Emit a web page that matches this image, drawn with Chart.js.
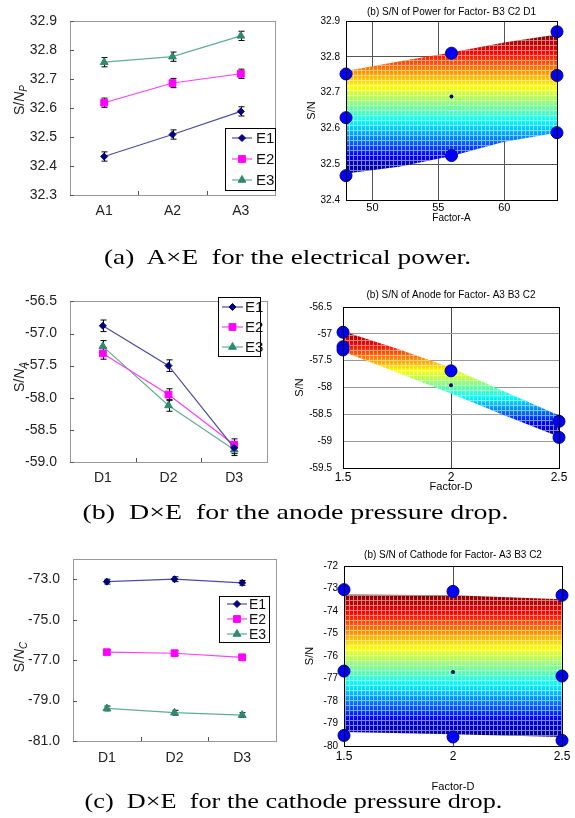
<!DOCTYPE html>
<html><head><meta charset="utf-8">
<script src="https://cdn.jsdelivr.net/npm/chart.js@4.4.0/dist/chart.umd.min.js"></script>
<style>
body{margin:0;background:#fff;width:575px;height:818px;overflow:hidden;position:relative;font-family:"Liberation Sans",Arial,sans-serif}
.pane{position:absolute}
.cap{position:absolute;width:575px;text-align:center;font-family:"Liberation Serif","Times New Roman",serif;font-size:21px;white-space:pre;color:#000;line-height:24px}
.ylab{position:absolute;transform:translate(-50%,-50%) rotate(-90deg);font-family:"Liberation Sans",Arial,sans-serif;font-size:14px;color:#222;white-space:nowrap}
.ylab sub{font-size:10px;font-style:italic}
</style></head>
<body>
<div class="pane" style="left:0;top:0;width:285px;height:225px"><canvas id="pL"></canvas></div>
<div class="pane" style="left:285px;top:0;width:290px;height:230px"><canvas id="pR"></canvas></div>
<div class="pane" style="left:0;top:280px;width:285px;height:230px"><canvas id="aL"></canvas></div>
<div class="pane" style="left:285px;top:280px;width:290px;height:230px"><canvas id="aR"></canvas></div>
<div class="pane" style="left:0;top:535px;width:285px;height:240px"><canvas id="cL"></canvas></div>
<div class="pane" style="left:285px;top:535px;width:290px;height:262px"><canvas id="cR"></canvas></div>
<div class="ylab" style="left:20px;top:100px">S/<i>N</i><sub>P</sub></div>
<div class="ylab" style="left:20px;top:377px">S/<i>N</i><sub>A</sub></div>
<div class="ylab" style="left:20px;top:657px">S/<i>N</i><sub>C</sub></div>
<div class="cap" style="left:0;top:245px;transform:scaleX(1.30)">(a)  A×E  for the electrical power.</div>
<div class="cap" style="left:8px;top:500px;transform:scaleX(1.33)">(b)  D×E  for the anode pressure drop.</div>
<div class="cap" style="left:6px;top:789px;transform:scaleX(1.25)">(c)  D×E  for the cathode pressure drop.</div>
<script>
// ---------------- data ----------------
const seriesNames = ['E1', 'E2', 'E3'];
const catsA = ['A1', 'A2', 'A3'];
const catsD = ['D1', 'D2', 'D3'];

// (a) electrical power, interaction plot
const powerE1 = [32.433, 32.509, 32.589];
const powerE2 = [32.619, 32.687, 32.719];
const powerE3 = [32.759, 32.778, 32.850];
const powerErr = [0.016, 0.016, 0.016];
const powerTicks = [32.3, 32.4, 32.5, 32.6, 32.7, 32.8, 32.9];

// (b) anode pressure drop, interaction plot
const anodeE1 = [-56.88, -57.50, -58.78];
const anodeE2 = [-57.31, -57.95, -58.73];
const anodeE3 = [-57.20, -58.12, -58.81];
const anodeErr = [0.09, 0.09, 0.09];
const anodeTicks = [-59.0, -58.5, -58.0, -57.5, -57.0, -56.5];

// (c) cathode pressure drop, interaction plot
const cathE1 = [-73.12, -73.00, -73.18];
const cathE2 = [-76.61, -76.66, -76.86];
const cathE3 = [-79.39, -79.60, -79.72];
const cathErr = [0.12, 0.12, 0.12];
const cathTicks = [-81, -79, -77, -75, -73];

// (a) right: response surface, Power
const powSurfX = [48, 52, 56, 60, 64];
const powSurfTop = [32.760, 32.787, 32.812, 32.840, 32.862];
const powSurfBot = [32.474, 32.493, 32.523, 32.563, 32.588];
const powDotX = [48, 48, 48, 56, 56, 64, 64, 64];
const powDotY = [32.752, 32.630, 32.468, 32.810, 32.524, 32.870, 32.748, 32.588];
const powMidX = [56], powMidY = [32.689];
const powXTicks = [50, 55, 60];
const powYTicks = [32.4, 32.5, 32.6, 32.7, 32.8, 32.9];

// (b) right: response surface, Anode
const anoSurfX = [1.5, 1.75, 2, 2.25, 2.5];
const anoSurfTop = [-56.95, -57.28, -57.63, -58.08, -58.52];
const anoSurfBot = [-57.33, -57.72, -58.11, -58.52, -58.92];
const anoDotX = [1.5, 1.5, 1.5, 2, 2.5, 2.5];
const anoDotY = [-56.97, -57.24, -57.30, -57.69, -58.63, -58.93];
const anoMidX = [2], anoMidY = [-57.96];
const anoXTicks = [1.5, 2, 2.5];
const anoYTicks = [-59.5, -59, -58.5, -58, -57.5, -57, -56.5];

// (c) right: response surface, Cathode
const catSurfX = [1.5, 2, 2.5];
const catSurfTop = [-73.27, -73.30, -73.48];
const catSurfBot = [-79.38, -79.48, -79.60];
const catDotX = [1.5, 1.5, 1.5, 2, 2, 2.5, 2.5, 2.5];
const catDotY = [-73.05, -76.67, -79.53, -73.13, -79.60, -73.30, -76.89, -79.75];
const catMidX = [2], catMidY = [-76.71];
const catXTicks = [1.5, 2, 2.5];
const catYTicks = [-80, -79, -78, -77, -76, -75, -74, -73, -72];

// ---------------- plugins ----------------
const frame = {
  id: 'frame',
  afterDatasetsDraw(chart, args, opts) {
    if (!opts || !opts.color) return;
    const a = chart.chartArea, ctx = chart.ctx;
    ctx.save(); ctx.strokeStyle = opts.color; ctx.lineWidth = 1;
    ctx.strokeRect(Math.round(a.left) + 0.5, Math.round(a.top) + 0.5, Math.round(a.right - a.left), Math.round(a.bottom - a.top));
    ctx.restore();
  }
};
const areaTitle = {
  id: 'areaTitle',
  afterDraw(chart, args, o) {
    if (!o || !o.text) return;
    const a = chart.chartArea, ctx = chart.ctx;
    ctx.save();
    ctx.font = o.size + 'px "Liberation Sans", Arial, sans-serif';
    ctx.fillStyle = '#000'; ctx.textAlign = 'center'; ctx.textBaseline = 'middle';
    ctx.fillText(o.text, (a.left + a.right) / 2, o.y);
    ctx.restore();
  }
};
const errorBars = {
  id: 'errorBars',
  beforeDatasetsDraw(chart) {
    const ctx = chart.ctx, ys = chart.scales.y;
    chart.data.datasets.forEach((ds, i) => {
      if (!ds.errors) return;
      const meta = chart.getDatasetMeta(i);
      meta.data.forEach((pt, j) => {
        const v = ds.data[j], e = ds.errors[j];
        const x = Math.round(pt.x) + 0.5, y1 = ys.getPixelForValue(v + e), y2 = ys.getPixelForValue(v - e);
        ctx.save(); ctx.strokeStyle = '#000'; ctx.lineWidth = 1; ctx.beginPath();
        ctx.moveTo(x, y1); ctx.lineTo(x, y2);
        ctx.moveTo(x - 3, y1); ctx.lineTo(x + 3, y1);
        ctx.moveTo(x - 3, y2); ctx.lineTo(x + 3, y2);
        ctx.stroke(); ctx.restore();
      });
    });
  }
};
const innerTicks = {
  id: 'innerTicks',
  afterDatasetsDraw(chart, args, opts) {
    if (!opts || !opts.on) return;
    const ctx = chart.ctx, a = chart.chartArea, xs = chart.scales.x, ys = chart.scales.y;
    ctx.save(); ctx.strokeStyle = '#555'; ctx.lineWidth = 1; ctx.beginPath();
    ys.ticks.forEach(t => { const p = Math.round(ys.getPixelForValue(t.value)) + 0.5; ctx.moveTo(a.left, p); ctx.lineTo(a.left + 4, p); });
    const n = chart.data.labels.length;
    const step = xs.getPixelForValue(1) - xs.getPixelForValue(0);
    for (let i = 0; i < n - 1; i++) { const p = Math.round(xs.getPixelForValue(i) + step / 2) + 0.5; ctx.moveTo(p, a.bottom); ctx.lineTo(p, a.bottom - 4); }
    ctx.stroke(); ctx.restore();
  }
};
const boxLegend = {
  id: 'boxLegend',
  afterDraw(chart, args, o) {
    if (!o || !o.box) return;
    const ctx = chart.ctx, [x1, y1, x2, y2] = o.box;
    ctx.save();
    ctx.fillStyle = '#fff'; ctx.fillRect(x1, y1, x2 - x1, y2 - y1);
    ctx.strokeStyle = '#000'; ctx.lineWidth = 1; ctx.strokeRect(x1 + 0.5, y1 + 0.5, x2 - x1, y2 - y1);
    chart.data.datasets.forEach((ds, i) => {
      const y = o.rows[i];
      ctx.strokeStyle = ds.borderColor; ctx.lineWidth = 1.2;
      ctx.beginPath(); ctx.moveTo(o.line[0], y); ctx.lineTo(o.line[1], y); ctx.stroke();
      ctx.fillStyle = ds.pointBackgroundColor; ctx.strokeStyle = ds.pointBorderColor; ctx.lineWidth = 1;
      Chart.helpers.drawPoint(ctx, {pointStyle: ds.pointStyle, radius: ds.pointRadius, rotation: 0, borderWidth: 1},
        (o.line[0] + o.line[1]) / 2, y);
      ctx.fillStyle = '#111'; ctx.font = o.font + 'px "Liberation Sans", Arial, sans-serif';
      ctx.textBaseline = 'middle'; ctx.textAlign = 'left';
      ctx.fillText(ds.label, o.text, y + 1);
    });
    ctx.restore();
  }
};
Chart.register(frame, areaTitle, errorBars, innerTicks, boxLegend);

// ---------------- interaction plots ----------------
const styles = [
  {line: '#4b4ba6', fill: '#000080', style: 'rectRot', r: 3.5},
  {line: '#ff3cff', fill: '#ff00ff', style: 'rect', r: 4.8},
  {line: '#5fb08f', fill: '#2e8b6e', style: 'triangle', r: 4.5}
];
function interaction(id, cats, series, errs, yTicks, lay, leg) {
  const tickFont = {family: '"Liberation Sans", Arial, sans-serif', size: 14};
  new Chart(document.getElementById(id), {
    type: 'line',
    data: {
      labels: cats,
      datasets: series.map((s, i) => ({
        label: seriesNames[i], data: s, errors: errs,
        borderColor: styles[i].line, borderWidth: 1.2,
        pointStyle: styles[i].style, pointRadius: styles[i].r,
        pointBackgroundColor: styles[i].fill, pointBorderColor: styles[i].fill, pointBorderWidth: 1,
        tension: 0, fill: false
      }))
    },
    options: {
      responsive: true, maintainAspectRatio: false, animation: false,
      layout: {padding: {left: 0, top: lay.top, right: lay.right, bottom: 0}},
      plugins: {legend: {display: false}, tooltip: {enabled: false},
        frame: {color: '#999'}, innerTicks: {on: true}, boxLegend: leg},
      scales: {
        x: {type: 'category', offset: true,
          grid: {display: false, drawTicks: false},
          border: {display: true, color: '#555', width: 1},
          ticks: {font: tickFont, color: '#222', padding: lay.xPad, maxRotation: 0},
          afterFit: s => { s.height = lay.xH; }},
        y: {min: yTicks[0], max: lay.ymax !== undefined ? lay.ymax : yTicks[yTicks.length - 1],
          afterBuildTicks: a => { a.ticks = yTicks.map(v => ({value: v})); },
          grid: {display: false, drawTicks: false},
          border: {display: true, color: '#555', width: 1},
          ticks: {font: tickFont, color: '#222', padding: 13, callback: v => Number(v).toFixed(1)},
          afterFit: s => { s.width = lay.yW; }}
      }
    }
  });
}
interaction('pL', catsA, [powerE1, powerE2, powerE3], powerErr, powerTicks,
  {top: 13, right: 10, xH: 30, yW: 70, xPad: 8},
  {box: [225, 128, 275, 190], rows: [138, 159, 180], line: [232, 252], text: 256, font: 15});
interaction('aL', catsD, [anodeE1, anodeE2, anodeE3], anodeErr, anodeTicks,
  {top: 12, right: 18, xH: 48, yW: 70, xPad: 8},
  {box: [218, 17, 260, 76], rows: [27, 47, 67], line: [222, 243], text: 245, font: 15});
interaction('cL', catsD, [cathE1, cathE2, cathE3], cathErr, cathTicks,
  {top: 24, right: 9, xH: 34, yW: 73, xPad: 9, ymax: -72},
  {box: [219, 61, 269, 107], rows: [69, 84, 99], line: [227, 247], text: 249, font: 14});

// ---------------- response surfaces ----------------
function jetColor(t) {
  const c = v => Math.round(255 * Math.max(0, Math.min(1, v)));
  return 'rgb(' + c(1.5 - Math.abs(4 * t - 3)) + ',' + c(1.5 - Math.abs(4 * t - 2)) + ',' + c(1.5 - Math.abs(4 * t - 1)) + ')';
}
function surfGradient(chart, vmin, vmax) {
  const ys = chart.scales.y;
  if (!ys || !chart.chartArea) return 'rgba(0,0,0,0)';
  const p0 = ys.getPixelForValue(vmin), p1 = ys.getPixelForValue(vmax);
  if (!isFinite(p0) || !isFinite(p1) || p0 === p1) return 'rgba(0,0,0,0)';
  const g = chart.ctx.createLinearGradient(0, p0, 0, p1);
  for (let i = 0; i <= 24; i++) g.addColorStop(i / 24, jetColor(i / 24));
  return g;
}
function meshPattern(alpha) {
  const c = document.createElement('canvas'); c.width = 4; c.height = 5;
  const g = c.getContext('2d');
  g.fillStyle = 'rgba(255,255,255,' + alpha + ')';
  g.fillRect(0, 0, 1, 5); g.fillRect(1, 0, 3, 1);
  return g.createPattern(c, 'repeat');
}
const pts = (xs, ys) => xs.map((x, i) => ({x: x, y: ys[i]}));
function surface(id, s) {
  const vmin = Math.min(...s.bot), vmax = Math.max(...s.top);
  const font = sz => ({family: '"Liberation Sans", Arial, sans-serif', size: sz, weight: 'normal'});
  const pat = meshPattern(0.5);
  const edge = {borderColor: 'rgba(0,0,0,0)', borderWidth: 0, pointRadius: 0, tension: 0};
  new Chart(document.getElementById(id), {
    type: 'line',
    data: {datasets: [
      Object.assign({data: pts(s.xs, s.top), fill: '+1', backgroundColor: ctx => surfGradient(ctx.chart, vmin, vmax), order: 5}, edge),
      Object.assign({data: pts(s.xs, s.bot), fill: false, order: 5}, edge),
      Object.assign({data: pts(s.xs, s.top), fill: '+1', backgroundColor: pat, order: 4}, edge),
      Object.assign({data: pts(s.xs, s.bot), fill: false, order: 4}, edge),
      {data: pts(s.dx, s.dy), showLine: false, pointRadius: 6, pointBackgroundColor: '#0000ff',
        pointBorderColor: '#00007a', pointBorderWidth: 1, clip: false, order: 1},
      {data: pts(s.mx, s.my), showLine: false, pointRadius: 2, pointBackgroundColor: '#000070',
        pointBorderColor: '#000070', pointBorderWidth: 0, clip: false, order: 0}
    ]},
    options: {
      responsive: true, maintainAspectRatio: false, animation: false,
      layout: {padding: {left: s.padL, top: s.padT, right: s.padR, bottom: 0}},
      plugins: {legend: {display: false}, tooltip: {enabled: false}, frame: {color: '#000'},
        areaTitle: {text: s.title, size: 10, y: s.titleY}},
      scales: {
        x: {type: 'linear', min: s.xmin, max: s.xmax,
          afterBuildTicks: a => { a.ticks = s.xTicks.map(v => ({value: v})); },
          grid: {display: true, color: s.gx, drawTicks: false, lineWidth: 1},
          border: {display: true, color: '#000', width: 1},
          ticks: {font: font(s.xFont), color: '#000', padding: s.xPad, maxRotation: 0, autoSkip: false, callback: v => String(v)},
          title: {display: true, text: s.xTitle, font: font(s.xtFont), color: '#000', padding: {top: 0, bottom: s.xtB}},
          afterFit: sc => { sc.height = s.xH; }},
        y: {min: s.yTicks[0], max: s.yTicks[s.yTicks.length - 1],
          afterBuildTicks: a => { a.ticks = s.yTicks.map(v => ({value: v})); },
          grid: {display: s.gy !== null, color: s.gy || '#000', drawTicks: false, lineWidth: 1},
          border: {display: true, color: '#000', width: 1},
          ticks: {font: font(10), color: '#000', padding: s.yPad, autoSkip: false, callback: s.yFmt},
          title: {display: true, text: 'S/N', font: font(11), color: '#000', padding: 0},
          afterFit: sc => { sc.width = s.yW - s.padL; }}
      }
    }
  });
}
surface('pR', {xs: powSurfX, top: powSurfTop, bot: powSurfBot, dx: powDotX, dy: powDotY, mx: powMidX, my: powMidY,
  xTicks: powXTicks, yTicks: powYTicks, xmin: 48, xmax: 64, title: '(b) S/N of Power for Factor- B3 C2 D1', titleY: 12,
  xTitle: 'Factor-A', padL: 20, padT: 21, padR: 18, xH: 30, yW: 61, gx: '#555', gy: '#555',
  xFont: 11, xPad: 1, xtFont: 10, xtB: 6, yPad: 6, yFmt: v => Number(v).toFixed(1)});
surface('aR', {xs: anoSurfX, top: anoSurfTop, bot: anoSurfBot, dx: anoDotX, dy: anoDotY, mx: anoMidX, my: anoMidY,
  xTicks: anoXTicks, yTicks: anoYTicks, xmin: 1.5, xmax: 2.5, title: '(b) S/N of Anode for Factor- A3 B3 C2', titleY: 15,
  xTitle: 'Factor-D', padL: 8, padT: 27, padR: 16, xH: 42, yW: 58, gx: '#444', gy: '#999',
  xFont: 12, xPad: 2, xtFont: 11, xtB: 16, yPad: 11, yFmt: v => String(v)});
surface('cR', {xs: catSurfX, top: catSurfTop, bot: catSurfBot, dx: catDotX, dy: catDotY, mx: catMidX, my: catMidY,
  xTicks: catXTicks, yTicks: catYTicks, xmin: 1.5, xmax: 2.5, title: '(b) S/N of Cathode for Factor- A3 B3 C2', titleY: 20,
  xTitle: 'Factor-D', padL: 18, padT: 31, padR: 13, xH: 51, yW: 59, gx: '#555', gy: null,
  xFont: 12, xPad: 3, xtFont: 11, xtB: 3, yPad: 6, yFmt: v => String(v)});
</script>
</body></html>
